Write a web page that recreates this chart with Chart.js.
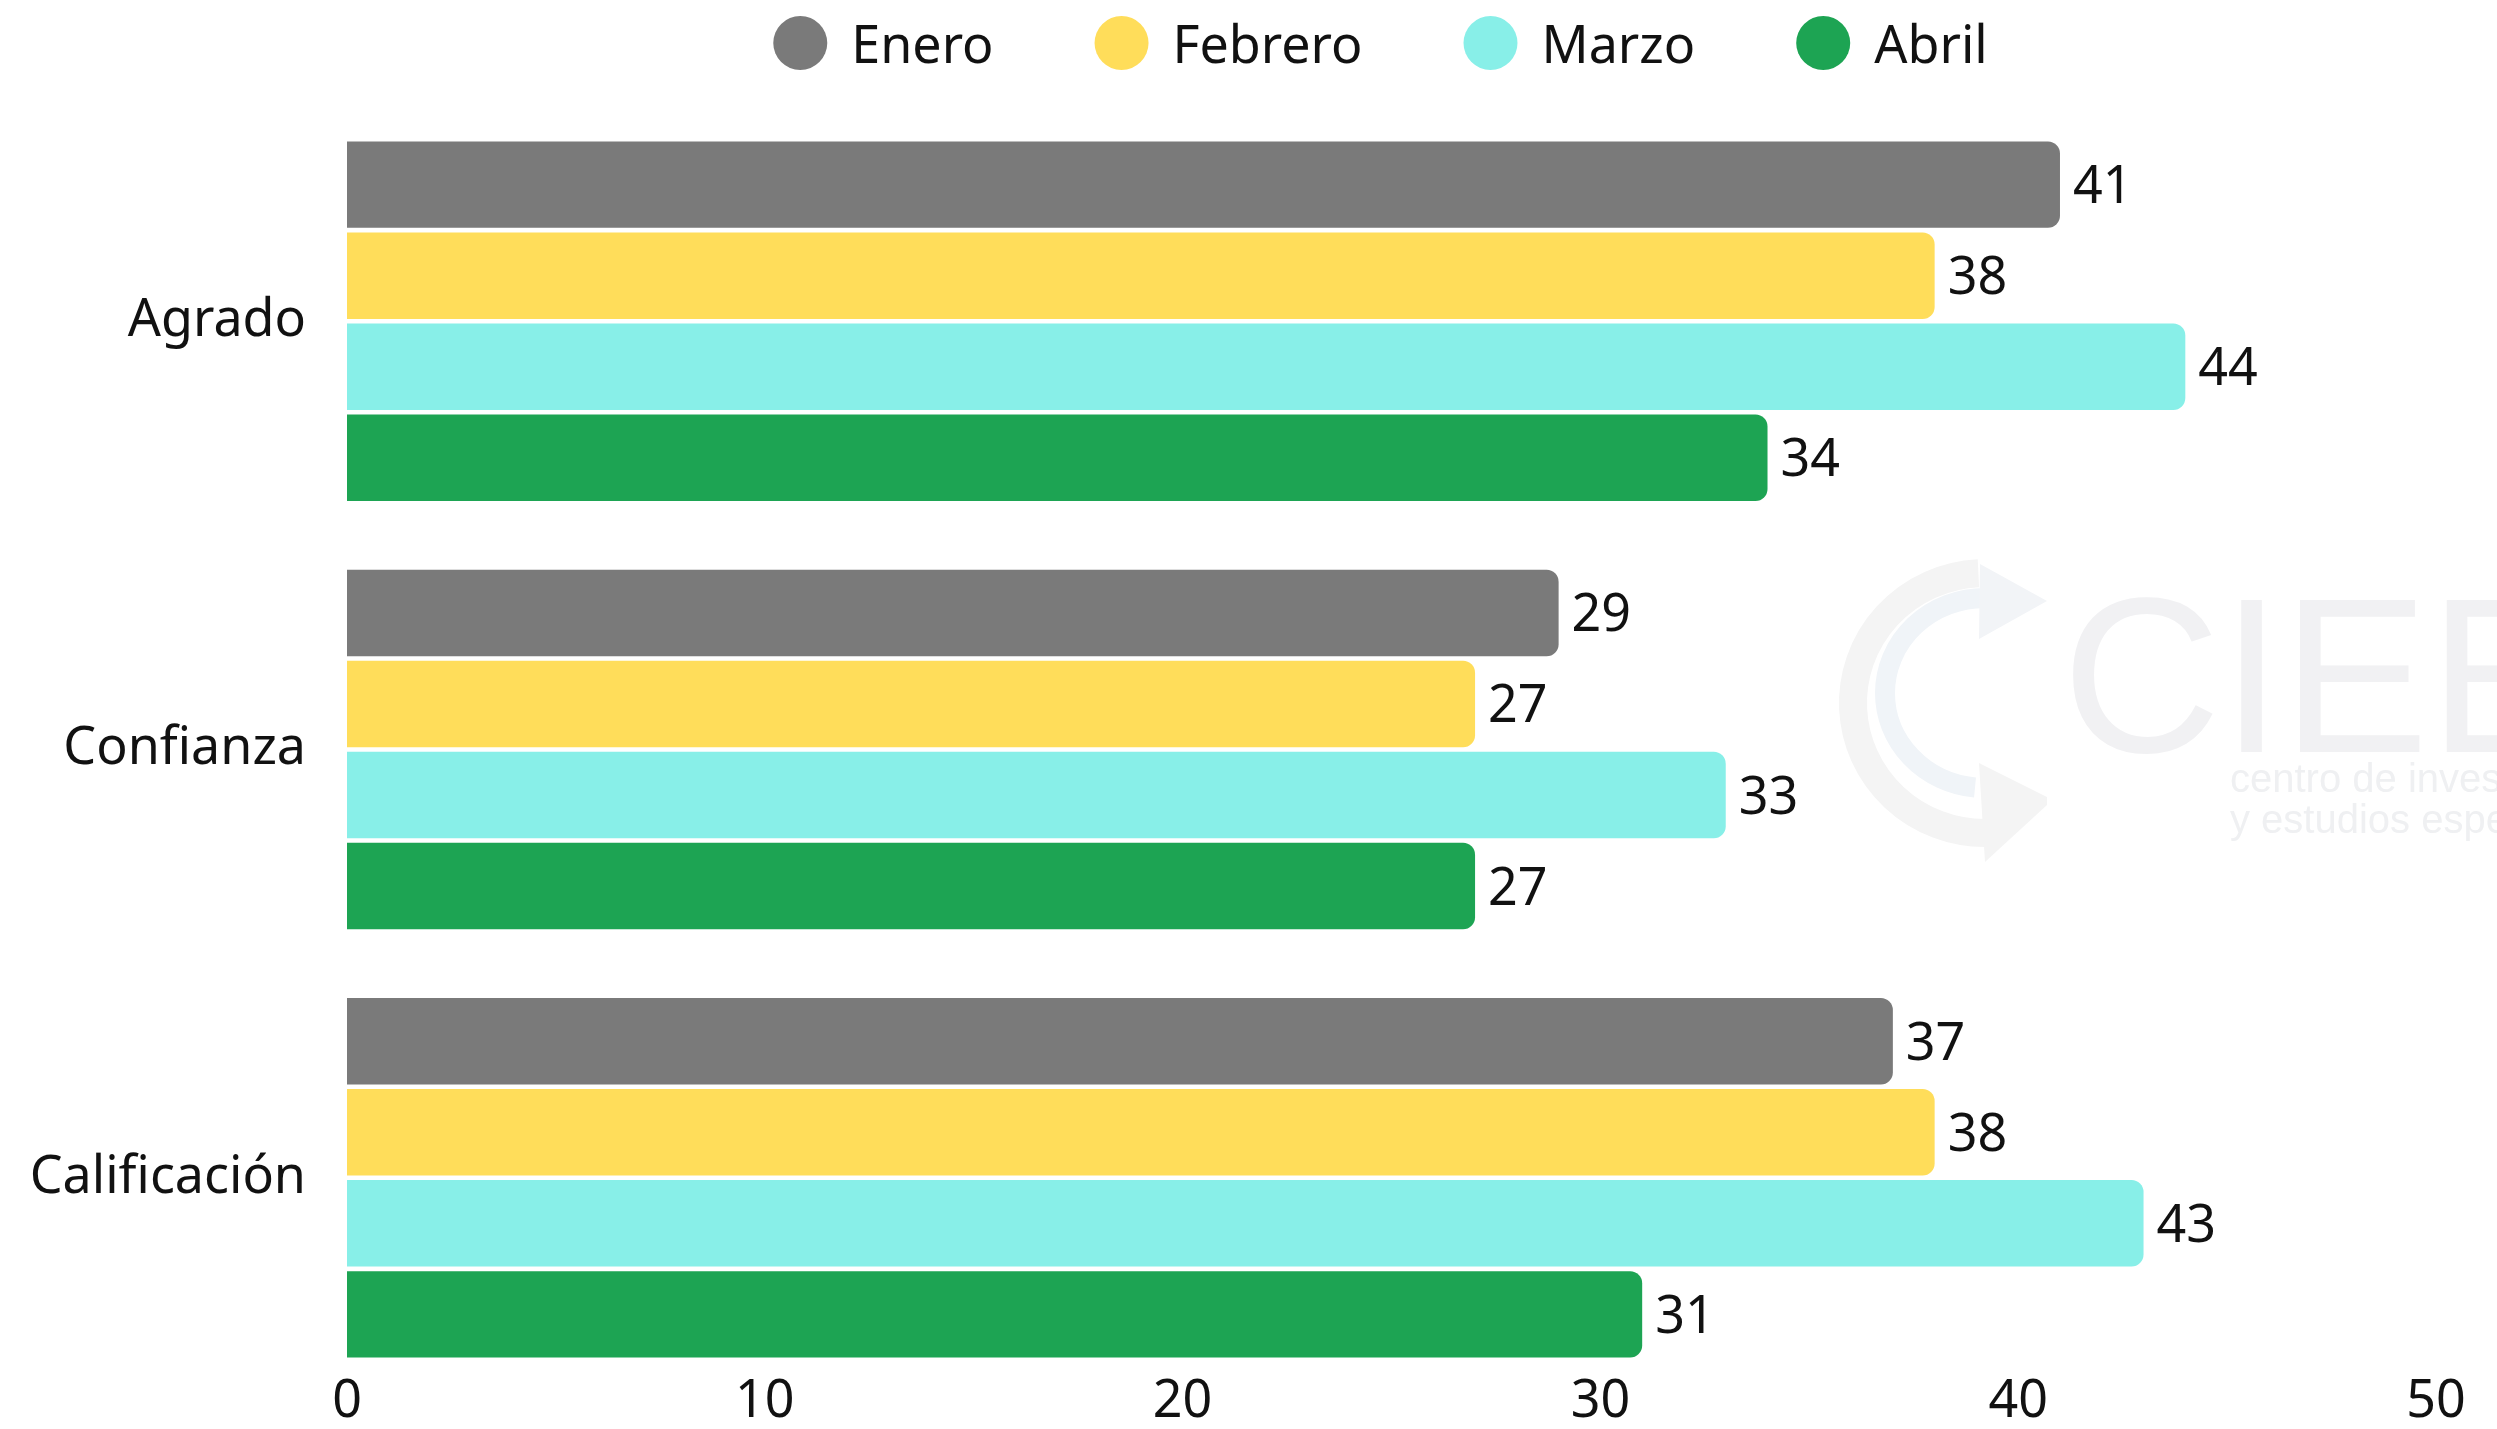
<!DOCTYPE html>
<html>
<head>
<meta charset="utf-8">
<script src="https://cdn.jsdelivr.net/npm/chart.js@4.4.1/dist/chart.umd.min.js"></script>
<style>
html,body{margin:0;padding:0;background:#ffffff;overflow:hidden;}
canvas{display:block;}
</style>
</head>
<body>
<canvas id="c" width="2497" height="1429"></canvas>
<script>
// ---- data ----
const categories = ['Agrado', 'Confianza', 'Calificación'];
const seriesNames = ['Enero', 'Febrero', 'Marzo', 'Abril'];
const enero   = [41, 29, 37];
const febrero = [38, 27, 38];
const marzo   = [44, 33, 43];
const abril   = [34, 27, 31];
const xTickValues = [0, 10, 20, 30, 40, 50];

// ---- styles ----
const seriesColors = ['#7a7a7a', '#ffdd5a', '#88efe8', '#1da453'];
const FONT = '"Noto Sans", "Open Sans", sans-serif';

const seriesValues = [enero, febrero, marzo, abril];

const datasets = seriesNames.map((name, i) => ({
  label: name,
  data: seriesValues[i],
  backgroundColor: seriesColors[i],
  borderWidth: 0,
  borderRadius: 12,
  borderSkipped: 'start',
  barPercentage: 0.95,
  categoryPercentage: 0.85
}));

const watermarkPlugin = {
  id: 'watermark',
  beforeDatasetsDraw(chart) {
    const ctx = chart.ctx;
    ctx.save();
    ctx.lineCap = 'butt';
    ctx.strokeStyle = '#f4f4f4';
    ctx.lineWidth = 28;
    ctx.beginPath();
    ctx.ellipse(1985, 703, 132, 130, 0, -Math.PI / 2 - 0.05, Math.PI / 2, true);
    ctx.stroke();
    ctx.strokeStyle = '#f0f4f8';
    ctx.lineWidth = 20;
    ctx.beginPath();
    ctx.ellipse(1985, 693, 100, 95, 0, -Math.PI / 2, Math.PI / 2 + 0.1, true);
    ctx.stroke();
    ctx.fillStyle = '#f2f4f7';
    ctx.beginPath();
    ctx.moveTo(1980, 564); ctx.lineTo(2047, 601); ctx.lineTo(1979, 639); ctx.closePath();
    ctx.fill();
    ctx.fillStyle = '#f4f4f4';
    ctx.beginPath();
    ctx.moveTo(1979, 763); ctx.lineTo(2047, 797); ctx.lineTo(2047, 805); ctx.lineTo(1985, 862); ctx.closePath();
    ctx.fill();
    ctx.fillStyle = '#f1f1f3';
    ctx.textBaseline = 'alphabetic';
    ctx.textAlign = 'left';
    ctx.font = '220px "Liberation Sans", Arial, sans-serif';
    ctx.fillText('CIEE', 2062, 752);
    ctx.fillStyle = '#eff0f2';
    ctx.font = '40px "Liberation Sans", Arial, sans-serif';
    ctx.fillText('centro de investigación', 2230, 792);
    ctx.fillText('y estudios especializados', 2230, 833);
    ctx.restore();
  }
};

const valueLabelPlugin = {
  id: 'valueLabels',
  afterDatasetsDraw(chart) {
    const ctx = chart.ctx;
    ctx.save();
    ctx.font = '52px ' + FONT;
    ctx.fillStyle = '#111111';
    ctx.textAlign = 'left';
    ctx.textBaseline = 'alphabetic';
    chart.data.datasets.forEach((ds, di) => {
      const meta = chart.getDatasetMeta(di);
      meta.data.forEach((el, i) => {
        ctx.fillText(String(ds.data[i]), el.x + 13, el.y + 18.5);
      });
    });
    ctx.restore();
  }
};

const legendPlugin = {
  id: 'customLegend',
  afterDraw(chart) {
    const ctx = chart.ctx;
    const ds = chart.data.datasets;
    ctx.save();
    ctx.font = '52px ' + FONT;
    ctx.textBaseline = 'alphabetic';
    ctx.textAlign = 'left';
    const r = 27, toText = 51, afterText = 101;
    const widths = ds.map(d => ctx.measureText(d.label).width);
    let total = 0;
    widths.forEach((w, i) => { total += r + toText + w + (i < widths.length - 1 ? afterText : 0); });
    const ca = chart.chartArea;
    let x = (ca.left + ca.right) / 2 - 11 - total / 2;
    const cy = 43;
    ds.forEach((d, i) => {
      ctx.fillStyle = d.backgroundColor;
      ctx.beginPath();
      ctx.arc(x + r, cy, r, 0, Math.PI * 2);
      ctx.fill();
      ctx.fillStyle = '#111111';
      ctx.fillText(d.label, x + r + toText, 63);
      x += r + toText + widths[i] + afterText;
    });
    ctx.restore();
  }
};

new Chart(document.getElementById('c'), {
  type: 'bar',
  data: { labels: categories, datasets },
  options: {
    indexAxis: 'y',
    responsive: false,
    animation: false,
    layout: { padding: { top: 107, right: 61, left: 0, bottom: 0 } },
    plugins: { legend: { display: false }, tooltip: { enabled: false } },
    scales: {
      x: {
        type: 'linear',
        min: 0,
        max: 50,
        grid: { display: false, drawTicks: false },
        border: { display: false },
        afterBuildTicks(scale) { scale.ticks = xTickValues.map(v => ({ value: v })); },
        afterFit(scale) {
          scale.height = 37;
          scale.paddingLeft = 0; scale.paddingRight = 0;
          scale._computeLabelArea = function () { return undefined; };
        },
        ticks: {
          font: { size: 52, family: FONT },
          color: '#111111',
          padding: -21,
          maxRotation: 0,
          autoSkip: false
        }
      },
      y: {
        grid: { display: false, drawTicks: false },
        border: { display: false },
        afterFit(scale) {
          scale.width = 347;
          scale.paddingTop = 0; scale.paddingBottom = 0;
        },
        ticks: {
          font: { size: 52, family: FONT },
          color: '#111111',
          padding: 41
        }
      }
    }
  },
  plugins: [watermarkPlugin, valueLabelPlugin, legendPlugin]
});
</script>
</body>
</html>
